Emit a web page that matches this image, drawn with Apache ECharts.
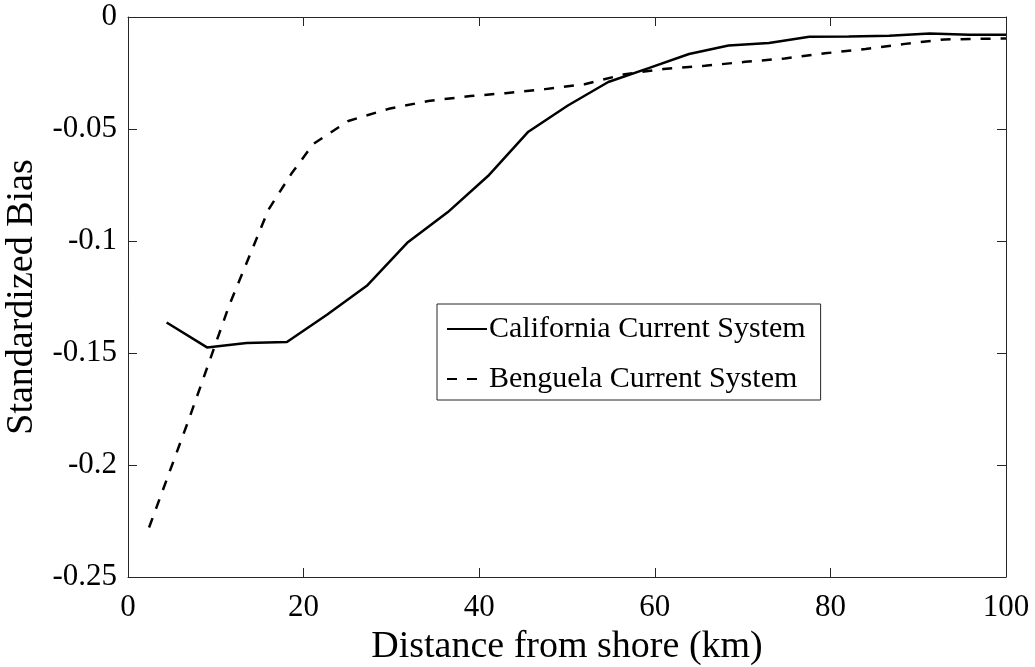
<!DOCTYPE html>
<html><head><meta charset="utf-8">
<script src="https://cdn.jsdelivr.net/npm/echarts@6/dist/echarts.min.js"></script>
<style>html,body{margin:0;padding:0;background:#fff}#c{width:1035px;height:667px}</style>
</head><body><div id="c"></div>
<script>
const californiaX = [4.4, 9.0, 13.5, 18.1, 22.7, 27.2, 31.8, 36.4, 41.0, 45.6, 50.1, 54.7, 59.3, 63.9, 68.4, 73.0, 77.6, 82.1, 86.7, 91.3, 95.8, 100];
const californiaY = [-0.1364, -0.1475, -0.1455, -0.1451, -0.1328, -0.1200, -0.1008, -0.0872, -0.0710, -0.0512, -0.0395, -0.0290, -0.0228, -0.0165, -0.0127, -0.0116, -0.0088, -0.0087, -0.0084, -0.0074, -0.0079, -0.0079];
const benguelaX = [2.4, 6.9, 11.5, 16.0, 18.6, 21.1, 25.1, 29.7, 34.2, 39.0, 43.0, 47.5, 52.0, 56.6, 61.0, 65.7, 70.3, 74.8, 79.4, 84.0, 88.5, 93.0, 97.6, 100];
const benguelaY = [-0.2279, -0.1800, -0.1290, -0.0860, -0.0700, -0.0567, -0.0464, -0.0410, -0.0375, -0.0353, -0.0340, -0.0322, -0.0300, -0.0255, -0.0232, -0.0218, -0.0200, -0.0185, -0.0162, -0.0143, -0.0120, -0.0100, -0.0097, -0.0096];
const seriesNames = ['California Current System', 'Benguela Current System'];
const xTitle = 'Distance from shore (km)';
const yTitle = 'Standardized Bias';

const font = 'Liberation Serif';
const axisColor = '#262626';
const zip = (xs, ys) => xs.map((x, i) => [x, ys[i]]);

const baseX = {type:'value', min:0, max:100, interval:20,
  axisLine:{show:true, onZero:false, lineStyle:{color:axisColor, width:1}},
  axisTick:{show:true, inside:true, length:9, lineStyle:{color:axisColor}},
  splitLine:{show:false}};
const baseY = {type:'value', min:-0.25, max:0, interval:0.05,
  axisLine:{show:true, onZero:false, lineStyle:{color:axisColor, width:1}},
  axisTick:{show:true, inside:true, length:9, lineStyle:{color:axisColor}},
  splitLine:{show:false}};

const chart = echarts.init(document.getElementById('c'), null, {renderer:'canvas'});
chart.setOption({
  animation:false,
  backgroundColor:'#fff',
  grid:{left:128, right:29, top:17, bottom:90, containLabel:false, outerBoundsMode:'none'},
  textStyle:{fontFamily:font},
  xAxis:[
    Object.assign({}, baseX, {position:'bottom', name:xTitle, nameLocation:'middle', nameGap:47,
      nameTextStyle:{fontFamily:font, fontSize:38, color:'#000'},
      axisLabel:{fontFamily:font, fontSize:31, color:'#000', margin:15}}),
    Object.assign({}, baseX, {position:'top', axisLabel:{show:false}})
  ],
  yAxis:[
    Object.assign({}, baseY, {position:'left', name:yTitle, nameLocation:'middle', nameGap:87,
      nameTextStyle:{fontFamily:font, fontSize:38, color:'#000'},
      axisLabel:{fontFamily:font, fontSize:31, color:'#000', margin:11}}),
    Object.assign({}, baseY, {position:'right', axisLabel:{show:false}})
  ],
  legend:{
    orient:'vertical', left:437, top:304,
    backgroundColor:'#fff', borderColor:axisColor, borderWidth:1,
    padding:[10, 15, 6, 9], itemGap:20, itemWidth:40, itemHeight:14,
    itemStyle:{color:'transparent', borderWidth:0},
    textStyle:{fontFamily:font, fontSize:30, color:'#000', padding:[0,0,0,-3]},
    data:seriesNames
  },
  series:[
    {name:seriesNames[0], type:'line', data:zip(californiaX, californiaY), symbol:'none',
     lineStyle:{color:'#000', width:2.5, type:'solid'}, itemStyle:{color:'#000'}},
    {name:seriesNames[1], type:'line', data:zip(benguelaX, benguelaY), symbol:'none',
     lineStyle:{color:'#000', width:2.5, type:[10,10]}, itemStyle:{color:'#000'}}
  ]
});
</script></body></html>
